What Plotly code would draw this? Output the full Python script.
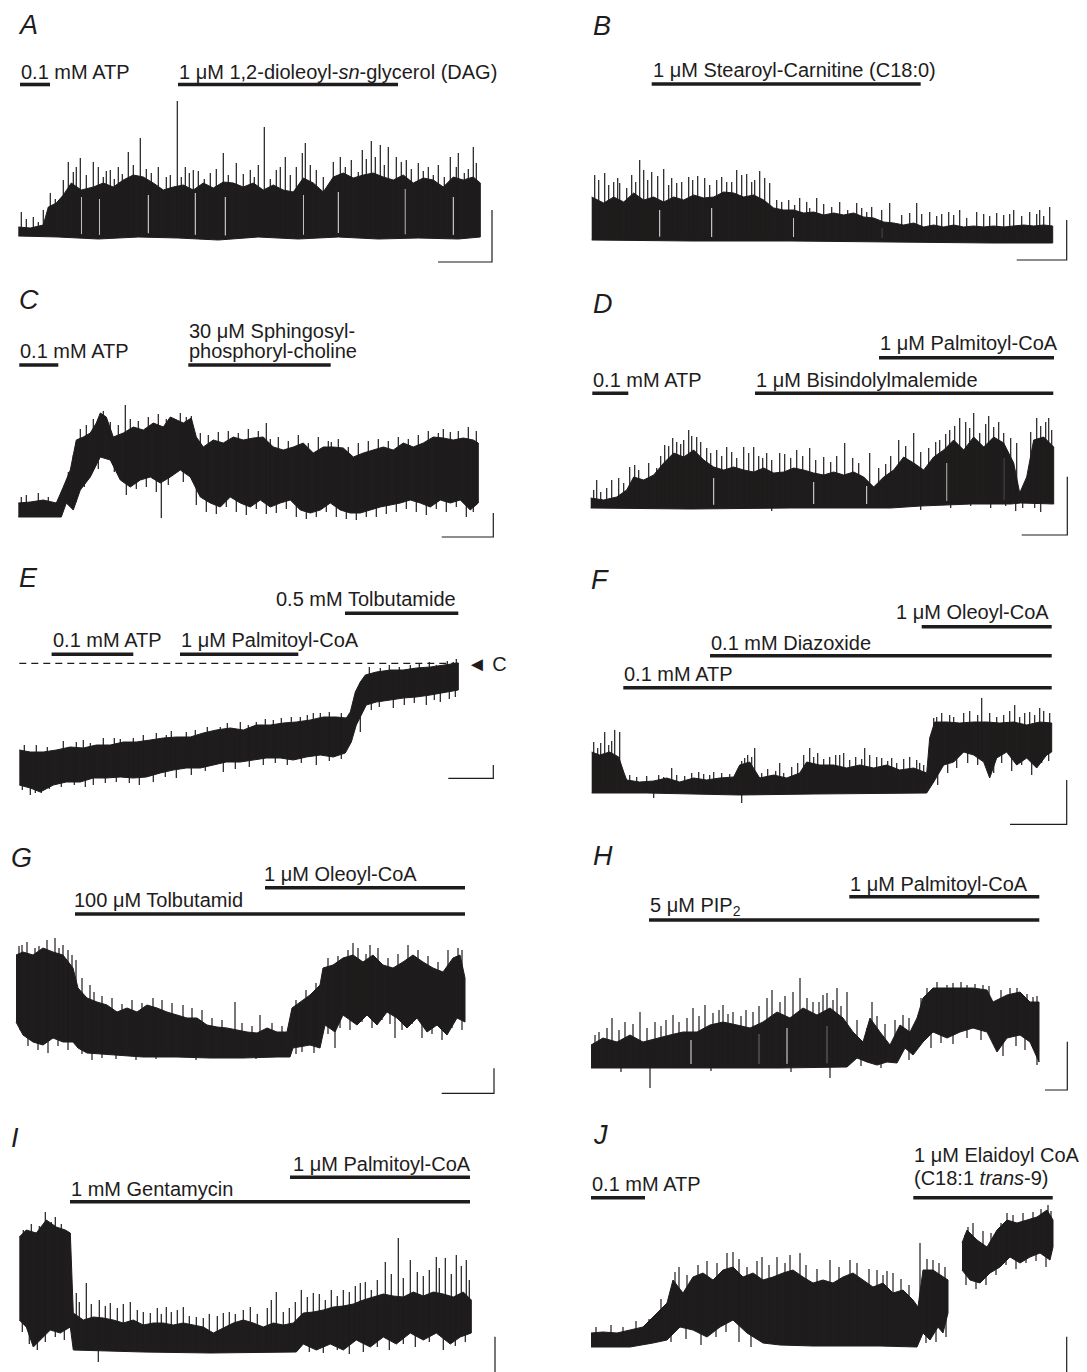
import numpy as np
import plotly.graph_objects as go

# ---------------------------------------------------------------------------
# DATA  (time t in arbitrary units from trace start, current i above baseline)
# ---------------------------------------------------------------------------
# Panel A
A_up_t = [0,12,25,30,38,45,53,63,75,85,95,105,115,125,135,145,155,165,175,185,195,205,215,225,235,245,255,265,275,285,295,305,315,325,335,345,355,365,375,385,395,405,415,425,435,445,455,462]
A_up_i = [10,9,12,30,34,42,54,47,50,54,50,57,62,60,54,47,50,52,47,54,49,55,54,50,54,47,52,47,45,59,54,45,60,64,59,62,64,60,57,62,54,59,57,50,60,57,60,54]
A_lo_t = [0,40,80,120,160,200,240,280,320,360,400,440,462]
A_lo_i = [1,0,-2,0,-1,-3,0,-2,0,-2,-1,-2,0]
A_spk_t = [3,25,32,45,50,62,75,80,92,100,110,122,140,148,159,167,175,192,205,218,232,240,246,258,267,278,284,287,298,322,333,344,353,362,370,378,388,400,410,432,440,455,458]
A_spk_i = [25,27,44,57,75,79,75,70,67,70,85,99,70,60,136,70,67,64,84,74,67,72,110,67,80,70,84,94,67,80,77,87,96,92,90,80,77,74,70,80,84,90,74]
A_spk2_t = [8,15,20,37,55,58,68,85,88,96,104,115,128,133,152,163,171,180,186,198,210,225,236,252,262,272,292,305,315,327,340,348,357,366,383,393,405,415,420,426,438,446,450]
A_spk2_i = [18,20,15,38,65,70,62,60,66,58,63,72,68,64,62,60,64,66,58,68,62,63,60,58,70,62,72,60,75,70,65,78,80,72,75,68,66,62,72,60,70,64,68]
A_dip_t, A_dip_i = [], []
A_slit_t = [63,81,130,177,207,285,320,387,435]
A_slit_i = [40,38,42,44,40,42,45,48,40]

# Panel B
B_up_t = [0,12,22,32,42,52,62,72,82,92,102,112,122,132,142,152,162,172,182,192,202,212,222,232,242,252,262,272,282,292,302,312,322,332,342,352,362,372,382,392,402,412,422,432,442,452,461]
B_up_i = [43,37,43,38,47,40,43,38,43,40,45,42,43,48,47,43,45,40,32,30,30,27,28,25,27,25,27,23,22,18,17,15,17,13,15,13,15,13,14,13,14,13,14,15,14,15,14]
B_lo_t = [0,100,200,300,400,461]
B_lo_i = [0,-1,-1,-2,-3,-3]
B_spk_t = [3,13,22,28,40,48,60,72,85,97,113,135,145,155,168,178,197,208,225,248,265,280,298,325,338,357,368,385,405,422,438,448,458]
B_spk_i = [65,67,58,57,65,80,68,71,57,63,62,58,70,66,69,57,40,42,42,38,37,33,37,37,28,28,30,28,27,30,28,30,33]
B_spk2_t = [7,17,26,35,44,52,56,66,77,80,90,101,106,118,125,130,140,150,160,163,173,185,190,203,215,218,232,240,256,270,275,290,310,318,330,345,350,362,375,392,398,412,418,430,445,452]
B_spk2_i = [60,55,62,52,58,70,60,64,55,62,58,60,64,55,60,63,58,65,58,60,62,40,38,35,38,32,36,33,30,32,28,30,25,27,26,24,26,25,22,26,24,25,26,24,26,24]
B_dip_t, B_dip_i = [], []
B_slit_t = [68,120,202,290]
B_slit_i = [30,32,22,12]

# Panel C
C_up_t = [0,12,25,38,45,52,58,65,72,78,82,88,95,105,115,125,135,145,152,158,165,173,178,185,195,205,215,225,235,245,255,265,275,285,295,305,315,325,335,345,355,365,375,385,395,405,415,425,435,445,455,460]
C_up_i = [14,15,17,14,30,47,77,80,84,94,104,100,80,84,90,87,94,90,100,97,94,99,80,70,77,74,80,77,79,80,70,67,70,74,64,70,70,69,60,64,67,70,67,74,70,74,80,79,77,79,77,74]
C_lo_t = [0,25,43,48,55,62,72,82,92,102,112,122,132,142,152,162,172,182,192,202,212,222,232,242,252,262,272,282,292,302,312,322,332,342,352,362,372,382,392,402,412,422,432,442,452,460]
C_lo_i = [0,0,0,14,7,27,40,60,57,37,30,37,40,34,40,47,40,20,14,10,20,14,10,17,10,14,17,7,4,7,14,7,4,4,7,10,12,14,17,14,10,17,14,17,7,14]
C_spk_t = [85,107,173,248,313,420,432]
C_spk_i = [106,112,101,94,75,84,85]
C_spk2_t = [3,8,20,30,50,55,62,68,75,92,100,112,120,130,140,148,162,168,182,190,200,210,220,230,240,252,260,270,280,290,300,310,320,330,340,350,360,370,380,390,400,410,425,440,450,458]
C_spk2_i = [20,22,24,20,45,62,88,92,98,95,92,98,96,100,103,98,104,100,84,82,85,86,84,88,86,78,80,76,82,74,80,76,78,70,74,76,78,76,80,78,82,86,88,86,90,86]
C_dip_t = [143,58,66,80,96,108,118,128,138,150,165,178,188,198,208,218,228,238,248,258,268,278,288,298,308,318,328,338,348,358,368,378,388,398,408,418,428,438,448,455]
C_dip_i = [-1,15,30,48,45,22,28,30,25,32,35,12,5,3,10,5,2,8,3,4,8,0,-2,0,5,0,-2,-3,0,0,3,5,8,5,2,8,5,10,0,5]
C_slit_t, C_slit_i = [], []

# Panel D
D_up_t = [0,13,26,36,43,53,63,73,83,93,103,113,123,133,143,153,163,173,183,193,203,213,223,233,243,253,263,273,283,293,303,313,323,333,343,353,363,373,383,393,403,413,423,429,436,443,453,463]
D_up_i = [10,8,11,18,31,28,33,45,55,51,58,48,41,38,41,38,36,40,35,36,40,38,35,33,36,33,36,31,21,31,38,51,45,38,51,58,68,58,71,61,71,65,45,15,31,68,71,61]
D_lo_t = [0,100,200,300,330,380,420,430,463]
D_lo_i = [0,-1,0,0,2,4,4,5,4]
D_spk_t = [6,21,39,44,74,86,93,98,106,116,136,153,163,176,189,206,219,233,254,279,308,323,349,359,369,383,389,403,413,426,446,458]
D_spk_i = [28,28,41,43,63,66,68,78,71,60,61,61,61,55,55,58,60,51,65,55,68,75,68,78,90,95,75,81,75,65,90,90]
D_spk2_t = [3,10,16,28,33,48,58,66,70,78,82,90,101,110,120,126,131,141,146,158,168,172,181,194,200,212,225,240,246,262,268,288,295,300,315,330,338,345,355,364,375,379,395,398,408,420,440,450,455,461]
D_spk2_i = [18,16,20,30,25,38,45,40,52,62,70,64,72,66,55,58,52,56,50,55,52,50,48,54,50,52,48,46,52,50,45,40,44,52,62,56,60,66,74,82,86,80,84,92,86,70,76,82,86,78]
D_dip_t = [181,444,330,360,380,400,415,425,432,450]
D_dip_i = [-3,0,-2,0,2,0,2,-3,0,-4]
D_slit_t = [123,223,276,356,413]
D_slit_i = [30,26,22,45,50]

# Panel E
E_up_t = [0,11,24,37,51,64,77,91,104,117,131,144,157,171,184,197,211,224,237,251,264,277,291,304,317,327,331,336,341,346,357,371,384,397,411,424,439]
E_up_i = [35,33,33,35,38,37,40,40,43,43,45,47,48,48,52,55,57,55,60,60,62,63,65,68,68,67,73,93,103,110,113,115,115,117,118,120,122]
E_lo_t = [0,11,21,34,47,61,74,87,101,114,127,141,154,167,181,194,207,221,234,247,261,274,287,301,314,326,332,337,342,347,357,371,384,397,411,424,439]
E_lo_i = [0,-3,-7,0,3,3,7,7,8,7,8,12,15,17,17,20,23,23,25,27,27,25,28,30,28,32,43,60,70,80,83,85,87,88,90,92,95]
E_spk_t = [17,57,84,114,147,167,201,221,237,254,281,301,361,391,417,434]
E_spk_i = [40,43,47,47,50,53,58,63,63,65,68,72,117,120,120,123]
E_spk2_t = [5,28,44,64,71,95,101,124,137,152,176,188,208,229,246,262,272,288,294,310,322,350,370,380,400,410,428,437]
E_spk2_i = [40,38,44,45,42,47,46,50,52,54,55,58,62,60,66,67,68,70,72,73,72,118,120,118,121,123,124,126]
E_dip_t = [11,22,74,134,157,204,297,341,374,407,421,3,16,30,42,55,66,86,97,110,120,146,172,186,216,230,244,256,268,282,310,322,352,360,385,395,415,430,436]
E_dip_i = [-10,-8,0,3,7,13,20,53,77,80,83,-5,-8,-4,-2,0,-2,2,3,2,0,8,10,14,16,18,20,22,20,22,24,26,75,78,80,82,85,86,88]
E_slit_t, E_slit_i = [], []

# Panel F
F_up_t = [0,8,18,27,32,35,48,62,75,88,102,115,128,142,148,158,168,182,195,208,215,228,242,255,268,282,295,308,322,335,338,343,355,368,382,395,408,422,435,448,460]
F_up_i = [41,38,41,36,21,13,11,12,15,11,15,13,15,16,28,31,15,18,15,20,31,28,28,25,28,25,28,23,25,20,55,71,71,70,71,71,70,71,68,71,70]
F_lo_t = [0,55,148,222,335,342,352,362,372,382,392,398,405,415,425,435,445,455,460]
F_lo_i = [0,0,-2,-1,0,11,28,31,41,38,31,15,35,41,28,35,25,38,41]
F_spk_t = [2,13,23,28,67,80,107,122,153,163,188,212,218,248,273,300,328,342,390,423,438,448]
F_spk_i = [51,61,63,61,18,25,21,21,35,45,30,38,45,38,45,35,30,75,95,88,81,85]
F_spk2_t = [6,9,17,20,38,45,55,72,85,93,100,112,118,130,138,145,150,156,160,170,176,184,192,200,206,222,226,232,238,244,252,258,264,270,278,285,290,296,305,312,318,325,332,345,350,358,362,372,378,386,398,405,412,418,428,433,443,452,458]
F_spk2_i = [45,50,48,52,18,16,17,16,18,17,20,19,18,20,19,22,32,38,36,20,24,22,20,26,30,36,40,34,36,38,40,33,36,34,38,36,35,32,30,34,36,33,28,76,80,78,76,80,82,78,80,76,78,82,76,80,78,82,80]
F_dip_t = [62,150,346,356,365,376,386,402,410,420,430,440,450,457]
F_dip_i = [-5,-10,8,20,25,30,28,20,30,22,28,18,30,32]
F_slit_t, F_slit_i = [], []

# Panel G
G_up_t = [0,7,17,27,37,47,57,62,71,81,91,101,111,121,131,141,151,161,171,181,191,201,211,221,231,241,251,261,271,276,284,294,304,307,317,327,337,347,357,367,377,387,397,407,417,427,437,444,449]
G_up_i = [103,106,103,110,106,103,90,70,60,56,53,46,50,46,53,50,46,43,40,40,33,31,30,28,26,25,30,26,26,50,56,63,73,90,93,100,103,96,103,93,90,96,103,96,90,86,100,103,80]
G_lo_t = [0,7,17,27,37,47,57,62,71,94,127,161,194,227,261,274,277,294,304,309,319,327,341,351,361,371,381,391,401,411,421,431,441,449]
G_lo_i = [36,23,16,13,20,16,16,10,5,3,1,1,0,0,1,1,10,13,10,33,26,43,33,43,33,46,40,30,40,26,33,23,40,36]
G_spk_t = [6,19,39,47,56,74,137,167,219,244,337,354,392,442]
G_spk_i = [113,110,120,113,103,73,60,53,56,43,115,113,113,110]
G_spk2_t = [3,11,23,31,43,52,60,66,78,86,96,106,116,126,146,156,176,186,196,206,226,236,256,266,280,290,300,312,322,332,342,350,362,372,382,402,412,422,432,446]
G_spk2_i = [112,116,112,118,110,108,98,80,66,62,60,54,58,55,58,55,50,48,40,38,35,32,35,32,58,68,75,100,102,108,110,104,110,100,104,108,102,96,108,108]
G_dip_t = [319,379,4,12,22,32,42,52,66,76,86,100,120,140,180,240,280,286,298,312,324,334,346,356,366,374,386,396,406,416,426,436,446]
G_dip_i = [10,20,28,12,8,5,12,8,4,-2,0,-1,-2,-1,-2,-1,4,6,5,24,30,28,36,30,38,34,28,34,20,24,18,30,28]
G_slit_t, G_slit_i = [], []

# Panel H
H_up_t = [0,12,26,39,52,66,79,92,106,119,132,146,159,172,186,199,212,226,239,252,262,272,279,289,299,309,319,326,332,342,356,369,382,396,402,416,429,439,448]
H_up_i = [23,30,26,33,26,30,33,36,36,43,46,43,40,46,56,50,60,53,60,50,36,26,50,36,23,43,36,50,70,80,80,80,80,78,66,73,76,66,66]
H_lo_t = [0,56,122,189,256,266,276,286,296,306,314,322,332,342,356,369,382,396,406,416,429,439,448]
H_lo_i = [0,0,0,0,1,10,6,3,6,5,20,13,26,36,30,36,40,36,16,30,33,26,6]
H_spk_t = [4,21,34,49,64,82,102,114,132,142,162,181,189,202,209,222,232,246,256,281,312,336,356,376,392,419,442]
H_spk_i = [33,50,46,56,46,53,60,63,63,56,56,78,66,76,90,66,73,80,76,66,53,80,83,83,83,80,71]
H_spk2_t = [8,16,28,42,56,70,75,88,96,108,122,128,137,150,155,168,176,194,216,228,236,242,250,266,276,286,294,304,318,330,346,362,370,384,398,410,426,436,446]
H_spk2_i = [36,40,38,44,40,42,48,46,50,52,55,58,54,52,58,62,70,72,70,66,75,68,62,48,40,52,44,48,50,70,86,85,86,84,82,78,80,74,72]
H_dip_t = [59,239,446,30,120,200,270,290,318,340,350,362,376,390,412,425,434]
H_dip_i = [-20,-10,3,-4,-3,-4,2,0,8,20,25,24,30,28,12,22,18]
H_slit_t = [100,168,196,236]
H_slit_i = [28,34,40,42]

# Panel I
I_up_t = [0,7,17,27,37,46,51,54,64,74,84,94,104,114,124,134,144,154,164,174,184,194,204,214,224,234,244,254,264,274,284,294,304,314,324,334,344,354,364,374,384,394,404,414,424,434,444,452]
I_up_i = [115,122,119,132,125,122,119,39,32,35,34,32,29,32,27,29,29,27,29,27,25,19,24,29,32,29,25,29,27,29,39,40,42,45,46,48,52,55,58,56,55,60,56,60,58,55,60,52]
I_lo_t = [0,7,14,21,31,41,51,54,124,191,277,284,297,311,324,337,351,364,377,391,404,417,431,441,452]
I_lo_i = [32,25,5,12,22,19,25,2,0,-1,0,8,2,8,2,12,5,15,8,19,12,19,8,15,19]
I_spk_t = [4,26,36,57,67,91,111,131,147,164,177,204,231,257,282,294,324,341,366,379,391,417,426,437,447]
I_spk_i = [122,140,135,59,69,49,50,39,45,45,35,39,45,60,62,59,62,69,90,114,92,95,94,97,92]
I_spk2_t = [12,20,32,42,60,72,80,86,98,104,118,124,138,142,152,158,170,184,190,198,210,216,224,238,248,252,264,270,276,288,300,306,312,318,330,336,346,352,358,372,384,398,404,410,420,432,442,450]
I_spk2_i = [128,126,130,128,50,48,52,46,44,48,42,40,44,38,40,42,36,34,38,36,40,38,42,38,44,52,40,44,50,55,58,52,62,56,60,66,70,62,72,78,74,80,76,82,84,78,86,72]
I_dip_t = [79,3,10,18,26,36,45,290,304,318,330,344,358,370,384,396,410,424,436,446]
I_dip_i = [-10,20,8,2,10,15,12,0,-1,2,-2,0,5,2,8,5,10,2,6,10]
I_slit_t, I_slit_i = [], []

# Panel J (two segments: gap in recording)
J_up_t = [0,12,26,39,52,66,76,82,92,102,112,122,132,142,152,162,172,182,192,202,212,222,232,242,252,262,272,282,292,302,312,322,327,332,342,352,357]
J_up_i = [14,15,14,17,20,34,44,67,54,70,74,67,77,80,70,74,67,70,74,77,70,64,67,64,70,74,67,60,64,54,57,47,40,77,77,70,67]
J_lo_t = [0,39,62,76,89,102,116,129,142,156,172,189,222,256,289,326,332,339,347,352,357]
J_lo_i = [0,0,4,7,20,17,10,20,27,14,4,2,1,1,1,0,14,7,20,14,34]
J2_up_t = [371,376,386,396,406,416,426,436,446,456,462]
J2_up_i = [104,117,107,100,117,127,124,127,130,137,127]
J2_lo_t = [371,379,389,399,409,419,429,439,449,459,462]
J2_lo_i = [77,67,64,74,80,90,84,90,94,87,100]
J_spk_t = [84,107,136,142,171,199,209,239,259,286,302,329,342,377,416,457]
J_spk_i = [75,82,94,95,90,92,94,87,87,77,74,104,87,120,134,142]
J_spk2_t = [5,20,32,45,58,70,88,96,116,126,148,156,166,178,186,194,215,226,248,266,278,292,296,310,318,336,348,354,374,382,392,400,410,422,432,442,450,460]
J_spk2_i = [20,22,20,26,28,48,80,72,86,84,88,80,86,82,90,84,82,78,80,84,78,72,76,68,62,88,84,80,112,124,116,114,124,132,134,135,138,136]
J_dip_t = [80,95,110,125,135,148,160,335,345,355,375,385,395,405,415,425,435,445,455]
J_dip_i = [5,8,2,10,15,5,0,4,5,10,62,58,62,72,82,78,84,86,80]
J_slit_t, J_slit_i = [], []

# Drug applications: (t_start, t_end, level)
A_apps = [(1.7, 31.7, 152.5), (159.7, 379.7, 152.5)]
B_apps = [(60, 329, 156)]
C_apps = [(1, 40, 152), (170, 312.4, 152)]
D_apps = [(1.6, 37.6, 114.7), (164.3, 462.6, 114.7), (288.3, 463.3, 150.3)]
E_apps = [(32.3, 114, 130.7), (160.7, 279, 130.7), (325.7, 439, 171.7)]
F_apps = [(31.6, 460, 105.3), (118.3, 460, 137.3), (330, 460, 166.3)]
G_apps = [(59, 449, 144), (249, 449, 170.3)]
H_apps = [(58, 448.3, 148), (258.3, 448.3, 171.3)]
I_apps = [(50.7, 450.7, 150.3), (270.7, 450.7, 174.7)]
J_apps = [(0, 54, 149.3), (322.3, 461.7, 149.3)]

# Calibration bars: (corner t, corner i, length t, length i)
A_cal = (473.7, -25, 54, 52)
B_cal = (475, -20, 50, 40)
C_cal = (475, -20, 51.6, 24)
D_cal = (476.6, -27, 45.6, 58.3)
E_cal = (474, 6.7, 45, 13.3)
F_cal = (475, -31.3, 56.7, 44.3)
G_cal = (478, -35.3, 52.3, 25)
H_cal = (476.3, -22, 22.3, 48.3)
I_cal = (475.7, -45, 50, 60.3)
J_cal = (475.7, -45, 50, 55.3)

# Texts: (text, t, i)
A_txt = [("0.1 mM ATP", 1.7, 165.5), ("1 μM 1,2-dioleoyl-<i>sn</i>-glycerol (DAG)", 159.7, 165.5)]
B_txt = [("1 μM Stearoyl-Carnitine (C18:0)", 60, 170)]
C_txt = [("0.1 mM ATP", 1, 165.5), ("30 μM Sphingosyl-", 170, 185.5), ("phosphoryl-choline", 170, 165.5)]
D_txt = [("0.1 mM ATP", 1.6, 128), ("1 μM Bisindolylmalemide", 164.3, 128), ("1 μM Palmitoyl-CoA", 288.3, 164.5)]
E_txt = [("0.1 mM ATP", 32.3, 145), ("1 μM Palmitoyl-CoA", 160.7, 145), ("0.5 mM Tolbutamide", 255.7, 186), ("◄ C", 447, 121.5)]
F_txt = [("0.1 mM ATP", 31.6, 119.5), ("0.1 mM Diazoxide", 118.3, 150.5), ("1 μM Oleoyl-CoA", 303.3, 181.3)]
G_txt = [("100 μM Tolbutamid", 57.3, 158), ("1 μM Oleoyl-CoA", 247.3, 184.5)]
H_txt = [("5 μM PIP<sub>2</sub>", 58, 161.5), ("1 μM Palmitoyl-CoA", 258.3, 184.5)]
I_txt = [("1 mM Gentamycin", 50.7, 163.5), ("1 μM Palmitoyl-CoA", 272.4, 188.5)]
J_txt = [("0.1 mM ATP", 0, 163.5), ("1 μM Elaidoyl CoA", 322.3, 192), ("(C18:1 <i>trans</i>-9)", 322.3, 169.5)]

# Panel letters: (t, i)
letters = {"A": (-1.3, 212), "B": (0.3, 214), "C": (-0.3, 217), "D": (1.3, 204), "E": (-1.3, 207),
           "F": (-1.7, 213), "G": (-6, 200.5), "H": (1, 212), "I": (-9.3, 214), "J": (1, 212)}

# ---------------------------------------------------------------------------
# LAYOUT
# ---------------------------------------------------------------------------
W, H = 1087, 1372
INK = "#1e1c1c"
FONT = "Liberation Sans, Arial, Helvetica, sans-serif"
COLS = {"L": (0, 543), "R": (543, 1087)}
ROWS = [(0, 278), (278, 552), (552, 838), (838, 1112), (1112, 1372)]

panels = [
    dict(name="A", col="L", row=0, org=(18.3, 237), segs=[(A_up_t, A_up_i, A_lo_t, A_lo_i)], spk=(A_spk_t + A_spk2_t, A_spk_i + A_spk2_i), dip=(A_dip_t, A_dip_i), slit=(A_slit_t, A_slit_i), apps=A_apps, cal=A_cal, txt=A_txt),
    dict(name="B", col="R", row=0, org=(591.7, 240), segs=[(B_up_t, B_up_i, B_lo_t, B_lo_i)], spk=(B_spk_t + B_spk2_t, B_spk_i + B_spk2_i), dip=(B_dip_t, B_dip_i), slit=(B_slit_t, B_slit_i), apps=B_apps, cal=B_cal, txt=B_txt),
    dict(name="C", col="L", row=1, org=(18.3, 517), segs=[(C_up_t, C_up_i, C_lo_t, C_lo_i)], spk=(C_spk_t + C_spk2_t, C_spk_i + C_spk2_i), dip=(C_dip_t, C_dip_i), slit=(C_slit_t, C_slit_i), apps=C_apps, cal=C_cal, txt=C_txt),
    dict(name="D", col="R", row=1, org=(590.7, 508), segs=[(D_up_t, D_up_i, D_lo_t, D_lo_i)], spk=(D_spk_t + D_spk2_t, D_spk_i + D_spk2_i), dip=(D_dip_t, D_dip_i), slit=(D_slit_t, D_slit_i), apps=D_apps, cal=D_cal, txt=D_txt),
    dict(name="E", col="L", row=2, org=(19.3, 785), segs=[(E_up_t, E_up_i, E_lo_t, E_lo_i)], spk=(E_spk_t + E_spk2_t, E_spk_i + E_spk2_i), dip=(E_dip_t, E_dip_i), slit=(E_slit_t, E_slit_i), apps=E_apps, cal=E_cal, txt=E_txt),
    dict(name="F", col="R", row=2, org=(591.7, 793), segs=[(F_up_t, F_up_i, F_lo_t, F_lo_i)], spk=(F_spk_t + F_spk2_t, F_spk_i + F_spk2_i), dip=(F_dip_t, F_dip_i), slit=(F_slit_t, F_slit_i), apps=F_apps, cal=F_cal, txt=F_txt),
    dict(name="G", col="L", row=3, org=(16, 1058), segs=[(G_up_t, G_up_i, G_lo_t, G_lo_i)], spk=(G_spk_t + G_spk2_t, G_spk_i + G_spk2_i), dip=(G_dip_t, G_dip_i), slit=(G_slit_t, G_slit_i), apps=G_apps, cal=G_cal, txt=G_txt),
    dict(name="H", col="R", row=3, org=(591, 1068), segs=[(H_up_t, H_up_i, H_lo_t, H_lo_i)], spk=(H_spk_t + H_spk2_t, H_spk_i + H_spk2_i), dip=(H_dip_t, H_dip_i), slit=(H_slit_t, H_slit_i), apps=H_apps, cal=H_cal, txt=H_txt),
    dict(name="I", col="L", row=4, org=(19.3, 1352), segs=[(I_up_t, I_up_i, I_lo_t, I_lo_i)], spk=(I_spk_t + I_spk2_t, I_spk_i + I_spk2_i), dip=(I_dip_t, I_dip_i), slit=(I_slit_t, I_slit_i), apps=I_apps, cal=I_cal, txt=I_txt),
    dict(name="J", col="R", row=4, org=(591, 1347), segs=[(J_up_t, J_up_i, J_lo_t, J_lo_i), (J2_up_t, J2_up_i, J2_lo_t, J2_lo_i)], spk=(J_spk_t + J_spk2_t, J_spk_i + J_spk2_i), dip=(J_dip_t, J_dip_i), slit=(J_slit_t, J_slit_i), apps=J_apps, cal=J_cal, txt=J_txt),
]

fig = go.Figure()
annotations = []
layout_axes = {}

for k, p in enumerate(panels, start=1):
    xa = "x" if k == 1 else f"x{k}"
    ya = "y" if k == 1 else f"y{k}"
    L, R = COLS[p["col"]]
    T, B = ROWS[p["row"]]
    px0, py0 = p["org"]
    layout_axes["xaxis" if k == 1 else f"xaxis{k}"] = dict(
        domain=[L / W, R / W], range=[L - px0, R - px0], visible=False, anchor=ya, fixedrange=True)
    layout_axes["yaxis" if k == 1 else f"yaxis{k}"] = dict(
        domain=[1 - B / H, 1 - T / H], range=[py0 - B, py0 - T], visible=False, anchor=xa, fixedrange=True)

    # recorded current: filled envelope
    all_lo_t, all_lo_i, all_up_t, all_up_i = [], [], [], []
    for up_t, up_i, lo_t, lo_i in p["segs"]:
        fig.add_trace(go.Scatter(
            x=list(up_t) + list(lo_t)[::-1], y=list(up_i) + list(lo_i)[::-1],
            mode="lines", fill="toself", fillcolor=INK,
            line=dict(color=INK, width=1), xaxis=xa, yaxis=ya, hoverinfo="skip", showlegend=False))
        all_lo_t += list(lo_t); all_lo_i += list(lo_i)
        all_up_t += list(up_t); all_up_i += list(up_i)

    # channel closures visible as thin white slits in the open-channel band
    wx, wy = [], []
    for t, top in zip(*p["slit"]):
        base = float(np.interp(t, all_lo_t, all_lo_i)) + 4
        wx += [t, t, None]; wy += [base, top, None]
    if wx:
        fig.add_trace(go.Scatter(x=wx, y=wy, mode="lines", line=dict(color="white", width=0.9),
                                 xaxis=xa, yaxis=ya, hoverinfo="skip", showlegend=False))

    # channel openings (spikes) and downward transients
    sx, sy = [], []
    for t, top in zip(*p["spk"]):
        base = float(np.interp(t, all_lo_t, all_lo_i)) + 2
        sx += [t, t, None]; sy += [base, top, None]
    for t, bot in zip(*p["dip"]):
        base = float(np.interp(t, all_up_t, all_up_i)) - 2
        sx += [t, t, None]; sy += [base, bot, None]
    if sx:
        fig.add_trace(go.Scatter(x=sx, y=sy, mode="lines", line=dict(color=INK, width=1.2),
                                 xaxis=xa, yaxis=ya, hoverinfo="skip", showlegend=False))

    # application bars
    bx, by = [], []
    for t0, t1, lev in p["apps"]:
        bx += [t0, t1, None]; by += [lev, lev, None]
    fig.add_trace(go.Scatter(x=bx, y=by, mode="lines", line=dict(color=INK, width=3.6),
                             xaxis=xa, yaxis=ya, hoverinfo="skip", showlegend=False))

    # calibration bar
    ct, ci, dt, di = p["cal"]
    fig.add_trace(go.Scatter(x=[ct - dt, ct, ct], y=[ci, ci, ci + di], mode="lines",
                             line=dict(color=INK, width=1.2), xaxis=xa, yaxis=ya,
                             hoverinfo="skip", showlegend=False))

    # closed-state reference line in E
    if p["name"] == "E":
        fig.add_trace(go.Scatter(x=[0, 439], y=[121.7, 121.7], mode="lines",
                                 line=dict(color=INK, width=1.3, dash="7px,5px"),
                                 xaxis=xa, yaxis=ya, hoverinfo="skip", showlegend=False))

    for text, t, i in p["txt"]:
        annotations.append(dict(text=text, x=t, y=i, xref=xa, yref=ya, xanchor="left", yanchor="middle",
                                showarrow=False, font=dict(family=FONT, size=20, color=INK), borderpad=0))
    lt, li = letters[p["name"]]
    annotations.append(dict(text=f"<i>{p['name']}</i>", x=lt, y=li, xref=xa, yref=ya, xanchor="left",
                            yanchor="middle", showarrow=False,
                            font=dict(family=FONT, size=27, color=INK), borderpad=0))

fig.update_layout(**layout_axes)
fig.update_layout(width=W, height=H, autosize=False, margin=dict(l=0, r=0, t=0, b=0),
                  paper_bgcolor="white", plot_bgcolor="white", showlegend=False,
                  annotations=annotations)

fig.write_html("out.html", config={"displayModeBar": False},
               post_script="document.body.style.margin='0px';document.body.style.padding='0px';")
